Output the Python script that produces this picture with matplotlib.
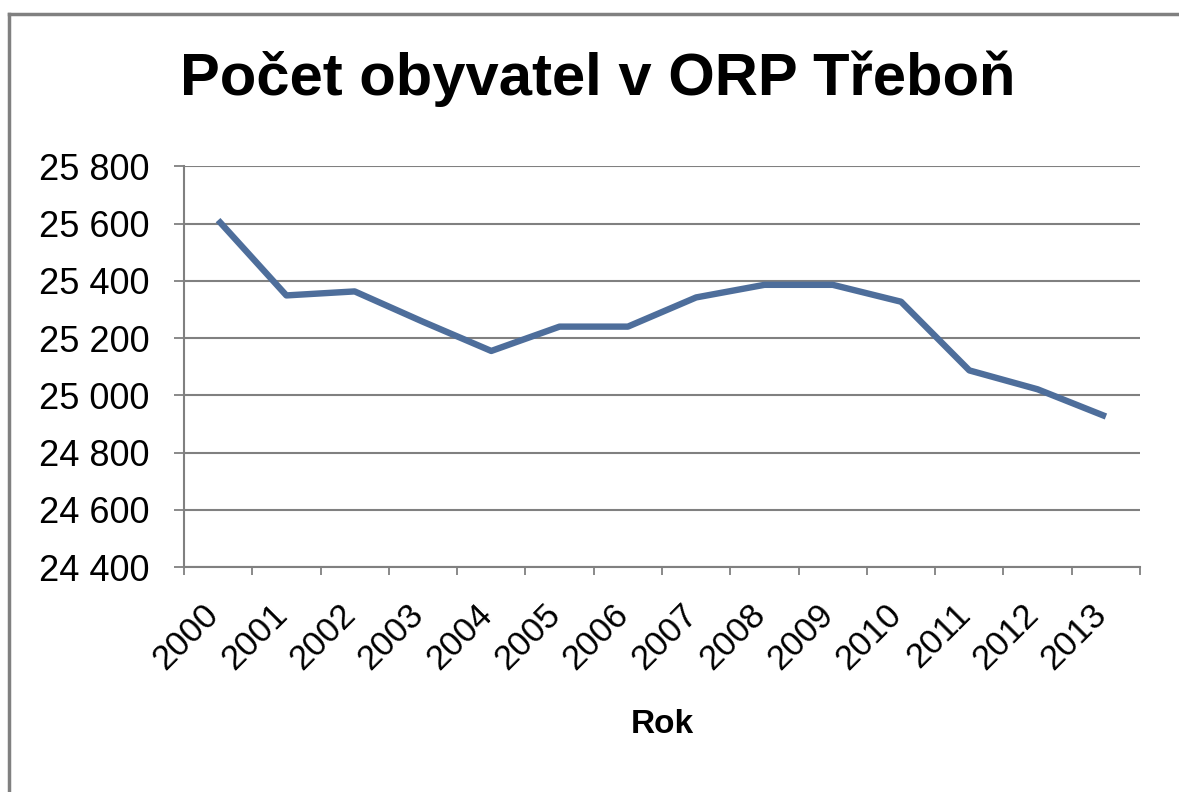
import matplotlib.pyplot as plt
from matplotlib.lines import Line2D
from matplotlib.ticker import FuncFormatter, FixedLocator
from matplotlib.transforms import ScaledTranslation

years = ["2000", "2001", "2002", "2003", "2004", "2005", "2006",
         "2007", "2008", "2009", "2010", "2011", "2012", "2013"]
population = [25612, 25349, 25363, 25257, 25155, 25240, 25240,
              25342, 25386, 25386, 25327, 25087, 25021, 24926]
y_ticks = [24400, 24600, 24800, 25000, 25200, 25400, 25600, 25800]

plt.rcParams["font.family"] = ["Liberation Sans", "DejaVu Sans"]

grey = "#808080"
line_color = "#4E6E9B"

fig = plt.figure(figsize=(11.79, 7.92), dpi=100)
ax = fig.add_axes([0.156, 0.284, 0.811, 0.506])

x = list(range(len(years)))
ax.plot(x, population, color=line_color, linewidth=4.6, solid_joinstyle="round",
        solid_capstyle="butt", zorder=3)

ax.set_xlim(-0.5, len(years) - 0.5)
ax.set_ylim(y_ticks[0], y_ticks[-1])
ax.set_yticks(y_ticks)
ax.yaxis.set_major_formatter(FuncFormatter(lambda v, p: f"{int(v):,}".replace(",", " ")))
ax.grid(axis="y", color=grey, linewidth=1.5, zorder=1)
ax.set_axisbelow(True)

# category labels at centres, tick marks between categories
ax.set_xticks(x)
ax.set_xticklabels(years, rotation=45, ha="right", va="top", rotation_mode="anchor")
ax.xaxis.set_minor_locator(FixedLocator([i - 0.5 for i in range(len(years) + 1)]))
ax.tick_params(axis="x", which="major", length=0, pad=22, labelsize=25)
ax.tick_params(axis="x", which="minor", length=6, width=1.3, color=grey)
ax.tick_params(axis="y", length=7, width=1.3, color=grey, pad=18, labelsize=26)
shift = ScaledTranslation(-16 / 100, 0, fig.dpi_scale_trans)
for lbl in ax.get_xticklabels():
    lbl.set_transform(lbl.get_transform() + shift)

for side in ("top", "right"):
    ax.spines[side].set_visible(False)
for side in ("left", "bottom"):
    ax.spines[side].set_color(grey)
    ax.spines[side].set_linewidth(1.5)

fig.text(0.507, 0.90, "Počet obyvatel v ORP Třeboň", ha="center", va="center",
         fontsize=43, fontweight="bold")
ax.set_xlabel("Rok", fontsize=24, fontweight="bold", labelpad=24)

# chart frame (only top and left edges are visible in the original)
top = 1 - 14 / 792
left = 9 / 1179
fig.add_artist(Line2D([left, 1], [top, top], color=grey, linewidth=2.5,
                      transform=fig.transFigure))
fig.add_artist(Line2D([left, left], [0, top], color=grey, linewidth=2.5,
                      transform=fig.transFigure))

fig.savefig("out.png", dpi=100)
